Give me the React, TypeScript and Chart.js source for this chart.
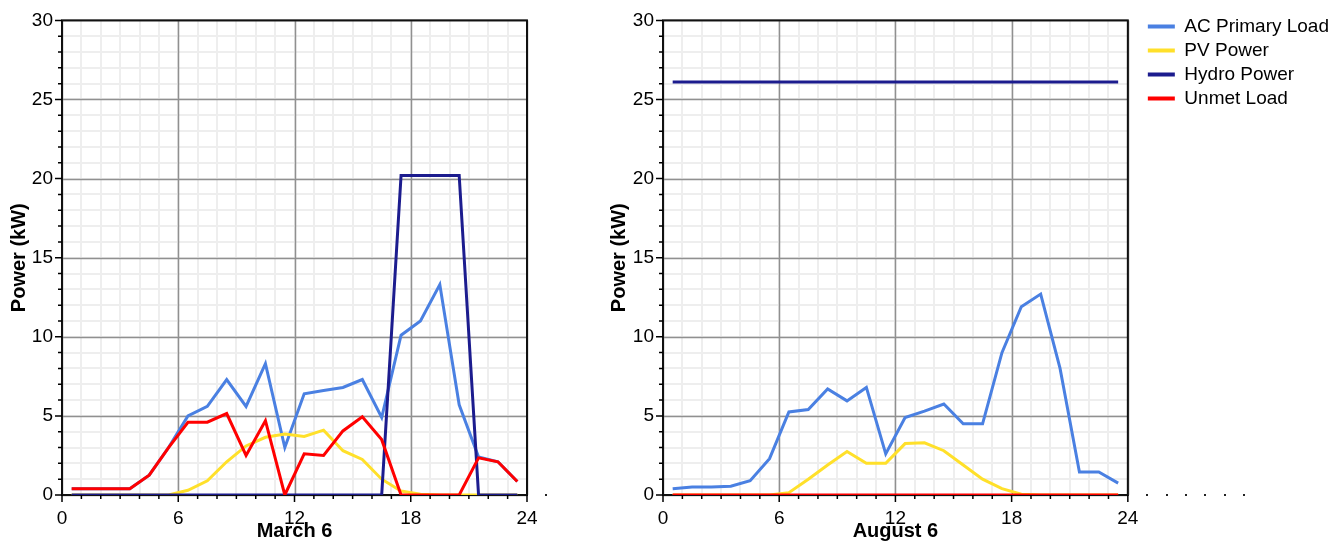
import React, { useEffect, useRef } from 'react';
import { Chart, registerables } from 'chart.js';

Chart.register(...registerables);

// ---------------- data ----------------
const hours = [0.5, 1.5, 2.5, 3.5, 4.5, 5.5, 6.5, 7.5, 8.5, 9.5, 10.5, 11.5, 12.5, 13.5, 14.5, 15.5, 16.5, 17.5, 18.5, 19.5, 20.5, 21.5, 22.5, 23.5];

const marchLoad = [0.4, 0.4, 0.4, 0.4, 1.25, 3.0, 5.0, 5.6, 7.3, 5.6, 8.3, 3.0, 6.4, 6.6, 6.8, 7.3, 4.9, 10.1, 11.0, 13.3, 5.7, 2.4, 2.1, 0.85];
const marchPV = [0, 0, 0, 0, 0, 0, 0.3, 0.9, 2.1, 3.1, 3.65, 3.85, 3.7, 4.1, 2.8, 2.25, 1.0, 0.25, 0.05, 0, 0, 0, 0, 0];
const marchHydro = [0, 0, 0, 0, 0, 0, 0, 0, 0, 0, 0, 0, 0, 0, 0, 0, 0, 20.2, 20.2, 20.2, 20.2, 0, 0, 0];
const marchUnmet = [0.4, 0.4, 0.4, 0.4, 1.25, 3.0, 4.6, 4.6, 5.15, 2.5, 4.7, 0, 2.6, 2.5, 4.05, 4.95, 3.5, 0, 0, 0, 0, 2.35, 2.1, 0.85];

const augLoad = [0.4, 0.5, 0.5, 0.55, 0.9, 2.3, 5.25, 5.4, 6.7, 5.95, 6.8, 2.6, 4.9, 5.3, 5.75, 4.5, 4.5, 9.0, 11.9, 12.7, 8.0, 1.45, 1.45, 0.75];
const augPV = [0, 0, 0, 0, 0, 0, 0.15, 1.0, 1.9, 2.75, 2.0, 2.0, 3.25, 3.3, 2.8, 1.9, 1.0, 0.4, 0.05, 0, 0, 0, 0, 0];
const augHydro = [26.1, 26.1, 26.1, 26.1, 26.1, 26.1, 26.1, 26.1, 26.1, 26.1, 26.1, 26.1, 26.1, 26.1, 26.1, 26.1, 26.1, 26.1, 26.1, 26.1, 26.1, 26.1, 26.1, 26.1];
const augUnmet = [0, 0, 0, 0, 0, 0, 0, 0, 0, 0, 0, 0, 0, 0, 0, 0, 0, 0, 0, 0, 0, 0, 0, 0];

const seriesNames = ['AC Primary Load', 'PV Power', 'Hydro Power', 'Unmet Load'];
const seriesColors = ['#4a80e2', '#ffe02a', '#1c1c8e', '#ff0000'];

const xTickLabels = [0, 6, 12, 18, 24];
const yTickLabels = [0, 5, 10, 15, 20, 25, 30];
const leftStubTicks = [25];
const rightStubTicks = [25, 26, 27, 28, 29, 30];

// ---------------- styling ----------------
const FONT = '"Liberation Sans", Arial, sans-serif';
Chart.defaults.font.family = FONT;
Chart.defaults.color = '#000';

const MAJOR_GRID = '#909090';
const MINOR_GRID = '#eeeeee';

// draws major grid lines over minor ones, the plot frame and the tick marks
const frameTicksPlugin = {
  id: 'frameTicks',
  beforeDatasetsDraw(chart: any) {
    const { ctx, chartArea: a, scales } = chart;
    const xs = scales.x;
    const ys = scales.y;
    ctx.save();
    ctx.strokeStyle = MAJOR_GRID;
    ctx.lineWidth = 1.5;
    ctx.beginPath();
    xTickLabels.forEach((v) => {
      const p = Math.round(xs.getPixelForValue(v)) + 0.5;
      ctx.moveTo(p, a.top);
      ctx.lineTo(p, a.bottom);
    });
    yTickLabels.forEach((v) => {
      const p = Math.round(ys.getPixelForValue(v)) + 0.5;
      ctx.moveTo(a.left, p);
      ctx.lineTo(a.right, p);
    });
    ctx.stroke();

    ctx.strokeStyle = '#111';
    ctx.lineWidth = 2;
    ctx.strokeRect(a.left, a.top, a.right - a.left, a.bottom - a.top);
    ctx.lineWidth = 1.5;
    ctx.strokeStyle = '#000';
    ctx.beginPath();
    ys.ticks.forEach((t: any) => {
      const p = ys.getPixelForValue(t.value);
      const len = yTickLabels.includes(t.value) ? 7 : 4;
      ctx.moveTo(a.left - len, p);
      ctx.lineTo(a.left, p);
    });
    xs.ticks.forEach((t: any) => {
      const p = xs.getPixelForValue(t.value);
      const len = xTickLabels.includes(t.value) ? 7 : 4;
      ctx.moveTo(p, a.bottom);
      ctx.lineTo(p, a.bottom + len);
    });
    ctx.stroke();
    ctx.restore();
  },
};

const stubDotsPlugin = {
  id: 'stubDots',
  afterDraw(chart: any, _args: any, opts: any) {
    const list: number[] = (opts && opts.hours) || [];
    const { ctx, chartArea: a, scales } = chart;
    ctx.save();
    ctx.fillStyle = '#222';
    list.forEach((h) => {
      const px = scales.x.getPixelForValue(h);
      ctx.fillRect(Math.round(px) - 1, a.bottom - 1, 2, 2);
    });
    ctx.restore();
  },
};

function makeDatasets(series: number[][]) {
  return seriesNames.map((name, i) => ({
    label: name,
    data: hours.map((h, k) => ({ x: h, y: series[i][k] })),
    borderColor: seriesColors[i],
    backgroundColor: seriesColors[i],
    borderWidth: 3,
    pointRadius: 0,
    pointHoverRadius: 0,
    tension: 0,
    fill: false,
    order: seriesNames.length - i,
    xAxisID: 'x',
    yAxisID: 'y',
  }));
}

function makeConfig(series: number[][], title: string, yWidth: number, withLegend: boolean, stubs: number[]): any {
  const scales: any = {
    x: {
      type: 'linear',
      min: 0,
      max: 24,
      ticks: {
        stepSize: 1,
        autoSkip: false,
        maxRotation: 0,
        padding: 12,
        font: { size: 19 },
        color: '#000',
        callback: (v: any) => (xTickLabels.includes(v) ? String(v) : ''),
      },
      grid: { drawTicks: false, color: MINOR_GRID, lineWidth: 2 },
      border: { display: false },
      title: {
        display: true,
        text: title,
        font: { size: 20, weight: 'bold', lineHeight: 1 },
        padding: { top: 0, bottom: 1 },
        color: '#000',
      },
      afterFit: (s: any) => {
        s.height = 47;
      },
    },
    y: {
      type: 'linear',
      min: 0,
      max: 30,
      ticks: {
        stepSize: 1,
        autoSkip: false,
        padding: 9,
        font: { size: 19 },
        color: '#000',
        callback: (v: any) => (yTickLabels.includes(v) ? String(v) : ''),
      },
      grid: { drawTicks: false, color: MINOR_GRID, lineWidth: 2 },
      border: { display: false },
      title: {
        display: true,
        text: 'Power (kW)',
        font: { size: 20, weight: 'bold', lineHeight: 1.2 },
        padding: { top: 7, bottom: 0 },
        color: '#000',
      },
      afterFit: (s: any) => {
        s.width = yWidth;
      },
    },
  };
  if (withLegend) {
    scales.xTop = {
      type: 'linear',
      position: 'top',
      display: true,
      grid: { display: false },
      ticks: { display: false },
      border: { display: false },
      afterFit: (s: any) => {
        s.height = 5;
      },
    };
    scales.ySpacer = {
      type: 'linear',
      position: 'right',
      display: true,
      grid: { display: false },
      ticks: { display: false },
      border: { display: false },
      afterFit: (s: any) => {
        s.width = 15;
      },
    };
  }
  return {
    type: 'line',
    data: { datasets: makeDatasets(series) },
    options: {
      responsive: false,
      animation: false,
      events: [],
      layout: {
        padding: withLegend ? { top: 12, right: 3, left: 0, bottom: 0 } : { top: 17, right: 73, left: 0, bottom: 0 },
      },
      plugins: {
        tooltip: { enabled: false },
        stubDots: { hours: stubs },
        legend: {
          display: withLegend,
          position: 'right',
          align: 'start',
          maxWidth: 400,
          labels: {
            font: { size: 19 },
            color: '#000',
            boxWidth: 27,
            boxHeight: 4,
            padding: 5,
            sort: (a: any, b: any) => a.datasetIndex - b.datasetIndex,
            generateLabels: (chart: any) =>
              Chart.defaults.plugins.legend.labels.generateLabels(chart).map((l: any) => ({
                ...l,
                lineWidth: 0,
                fillStyle: seriesColors[l.datasetIndex],
                strokeStyle: seriesColors[l.datasetIndex],
              })),
          },
        },
      },
      scales,
    },
    plugins: [frameTicksPlugin, stubDotsPlugin],
  };
}

function ChartPanel(props: { left: number; width: number; config: any }) {
  const ref = useRef<HTMLCanvasElement | null>(null);
  useEffect(() => {
    if (!ref.current) return;
    const chart = new Chart(ref.current, props.config);
    return () => chart.destroy();
  }, []);
  return (
    <div style={{ position: 'absolute', left: props.left, top: 0, width: props.width, height: 542 }}>
      <canvas ref={ref} width={props.width} height={542} style={{ display: 'block' }} />
    </div>
  );
}

export default function App() {
  const leftConfig = makeConfig([marchLoad, marchPV, marchHydro, marchUnmet], 'March 6', 62, false, leftStubTicks);
  const rightConfig = makeConfig([augLoad, augPV, augHydro, augUnmet], 'August 6', 63, true, rightStubTicks);
  return (
    <div style={{ position: 'absolute', left: 0, top: 0, width: 1342, height: 542, background: '#fff' }}>
      <ChartPanel left={0} width={600} config={leftConfig} />
      <ChartPanel left={600} width={742} config={rightConfig} />
    </div>
  );
}
